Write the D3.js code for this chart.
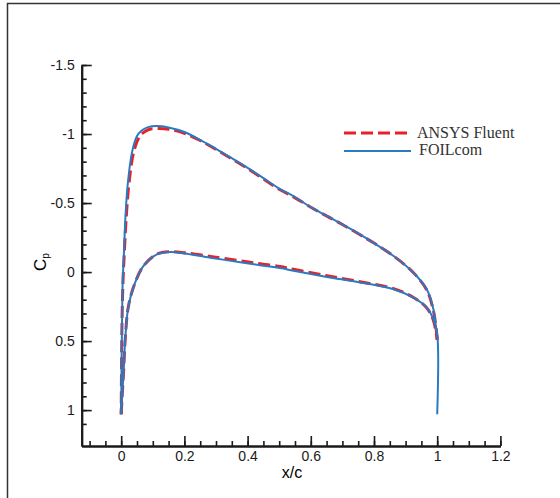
<!DOCTYPE html>
<meta charset="utf-8">
<style>
    body { margin: 0; background: #fff; }
    .axis path, .axis line { stroke: #1a1a1a; }
    .axis path { stroke-width: 2px; }
    .axis line { stroke-width: 1.6px; }
    .axis text { font-family: "Liberation Sans", Arial, sans-serif; font-size: 14px; fill: #1a1a1a; }
    .fluent { fill: none; stroke: #e8202a; stroke-width: 3px; stroke-dasharray: 12,5; }
    .foil { fill: none; stroke: #2a7ac0; stroke-width: 2px; }
    .legend text { font-family: "Liberation Serif", "Times New Roman", serif; font-size: 16px; fill: #333; }
</style>
<body>
<script src="https://cdnjs.cloudflare.com/ajax/libs/d3/7.8.5/d3.min.js"></script>
<script>

    // FOILcom, upper surface (trailing edge -> leading edge)
    var foilUpperX  = [1.0, 0.997, 0.988, 0.967, 0.925, 0.862, 0.8, 0.756, 0.7, 0.651, 0.6, 0.545, 0.5, 0.45, 0.4, 0.35, 0.3, 0.25, 0.2, 0.15, 0.113, 0.085, 0.065, 0.05, 0.034, 0.02, 0.013, 0.008, 0.005, 0.003, 0.001, 0];
    var foilUpperCp = [0.45, 0.415, 0.27, 0.125, 0.005, -0.116, -0.21, -0.273, -0.345, -0.406, -0.47, -0.55, -0.605, -0.68, -0.755, -0.825, -0.893, -0.958, -1.015, -1.048, -1.058, -1.05, -1.025, -0.985, -0.865, -0.62, -0.38, -0.1, 0.05, 0.3, 0.7, 1.03];
    // FOILcom, lower surface (leading edge -> trailing edge, then the drop at x/c = 1)
    var foilLowerX  = [0, 0.003, 0.0074, 0.0127, 0.023, 0.044, 0.07, 0.113, 0.155, 0.2, 0.282, 0.387, 0.44, 0.503, 0.545, 0.651, 0.756, 0.862, 0.925, 0.967, 0.988, 1.0, 1.0];
    var foilLowerCp = [1.03, 0.9, 0.73, 0.488, 0.246, 0.077, -0.043, -0.128, -0.145, -0.135, -0.104, -0.068, -0.05, -0.03, -0.01, 0.035, 0.075, 0.125, 0.186, 0.258, 0.343, 0.45, 1.03];

    // ANSYS Fluent
    var fluentUpperX  = [1.0, 0.997, 0.988, 0.967, 0.925, 0.862, 0.8, 0.756, 0.7, 0.651, 0.6, 0.545, 0.5, 0.45, 0.4, 0.35, 0.3, 0.25, 0.2, 0.15, 0.12, 0.09, 0.07, 0.055, 0.039, 0.025, 0.016, 0.009, 0.006, 0.003, 0.001, 0];
    var fluentUpperCp = [0.49, 0.42, 0.28, 0.13, 0.005, -0.116, -0.21, -0.27, -0.345, -0.405, -0.47, -0.545, -0.60, -0.675, -0.75, -0.82, -0.888, -0.953, -1.005, -1.035, -1.04, -1.035, -1.01, -0.97, -0.865, -0.65, -0.4, -0.1, 0.05, 0.3, 0.7, 1.03];
    var fluentLowerX  = [0, 0.003, 0.0074, 0.0127, 0.023, 0.044, 0.07, 0.113, 0.155, 0.2, 0.282, 0.387, 0.44, 0.503, 0.545, 0.651, 0.756, 0.862, 0.925, 0.967, 0.988, 1.0];
    var fluentLowerCp = [1.03, 0.9, 0.73, 0.488, 0.246, 0.077, -0.043, -0.13, -0.147, -0.14, -0.113, -0.078, -0.06, -0.04, -0.02, 0.027, 0.07, 0.12, 0.184, 0.26, 0.35, 0.49];

    var xTicks = [0, 0.2, 0.4, 0.6, 0.8, 1, 1.2];
    var yTicks = [-1.5, -1, -0.5, 0, 0.5, 1];
    var xMinor = d3.range(-0.1, 1.2001, 0.05);
    var yMinor = d3.range(-1.5, 1.1001, 0.1);

    var seriesNames = ["ANSYS Fluent", "FOILcom"];

    var width = 560,
            height = 498;

    var x = d3.scaleLinear().domain([-0.125, 1.2]).range([81.7, 500.4]),
            y = d3.scaleLinear().domain([-1.5, 1.26]).range([65, 446]);

    var svg = d3.select("body").append("svg")
            .attr("width", width)
            .attr("height", height);

    // outer frame
    svg.append("rect")
            .attr("x", 7.5).attr("y", 3.5)
            .attr("width", 600).attr("height", 600)
            .attr("fill", "none")
            .attr("stroke", "#333")
            .attr("stroke-width", 1.5);

    function pts(xs, cs) { return xs.map(function(v, i) { return [v, cs[i]]; }); }

    var smooth = d3.line()
            .x(function(d) { return x(d[0]); })
            .y(function(d) { return y(d[1]); })
            .curve(d3.curveCatmullRom.alpha(0.5));

    svg.append("path").attr("class", "fluent").attr("d", smooth(pts(fluentUpperX, fluentUpperCp)));
    svg.append("path").attr("class", "fluent").attr("d", smooth(pts(fluentLowerX, fluentLowerCp)));
    svg.append("path").attr("class", "foil").attr("d", smooth(pts(foilUpperX, foilUpperCp)));
    svg.append("path").attr("class", "foil").attr("d", smooth(pts(foilLowerX, foilLowerCp)));

    // axes, ticks pointing inward; minor and major ticks in separate groups
    var fmt = function(d) { return String(d); };
    var xAt = "translate(0," + y.range()[1] + ")",
            yAt = "translate(" + x.range()[0] + ",0)";

    svg.append("g").attr("class", "axis").attr("transform", xAt)
            .call(d3.axisBottom(x).tickValues(xMinor).tickSize(-5).tickSizeOuter(0).tickFormat(""));
    svg.append("g").attr("class", "axis").attr("transform", xAt)
            .call(d3.axisBottom(x).tickValues(xTicks).tickSize(-10).tickSizeOuter(0).tickPadding(5).tickFormat(fmt));

    svg.append("g").attr("class", "axis").attr("transform", yAt)
            .call(d3.axisLeft(y).tickValues(yMinor).tickSize(-5).tickSizeOuter(0).tickFormat(""));
    svg.append("g").attr("class", "axis").attr("transform", yAt)
            .call(d3.axisLeft(y).tickValues(yTicks).tickSize(-10).tickSizeOuter(0).tickPadding(7).tickFormat(fmt));

    // axis titles
    svg.append("text")
            .attr("x", 292).attr("y", 478)
            .attr("text-anchor", "middle")
            .style("font-family", "Liberation Sans, Arial, sans-serif")
            .style("font-size", "16px")
            .text("x/c");

    var cp = svg.append("text")
            .attr("transform", "translate(46,262)rotate(-90)")
            .attr("text-anchor", "middle")
            .style("font-family", "Liberation Sans, Arial, sans-serif")
            .style("font-size", "17px");
    cp.append("tspan").text("C");
    cp.append("tspan").attr("dy", 3).style("font-size", "10px").text("p");

    // legend
    var legend = svg.append("g").attr("class", "legend");
    legend.selectAll("line")
            .data(seriesNames)
            .enter().append("line")
            .attr("class", function(d, i) { return i ? "foil" : "fluent"; })
            .attr("x1", 344).attr("x2", 411)
            .attr("y1", function(d, i) { return 133 + i * 18; })
            .attr("y2", function(d, i) { return 133 + i * 18; });
    legend.selectAll("text")
            .data(seriesNames)
            .enter().append("text")
            .attr("x", function(d, i) { return i ? 419 : 417; })
            .attr("y", function(d, i) { return 138 + i * 17; })
            .text(function(d) { return d; });
</script>
</body>
